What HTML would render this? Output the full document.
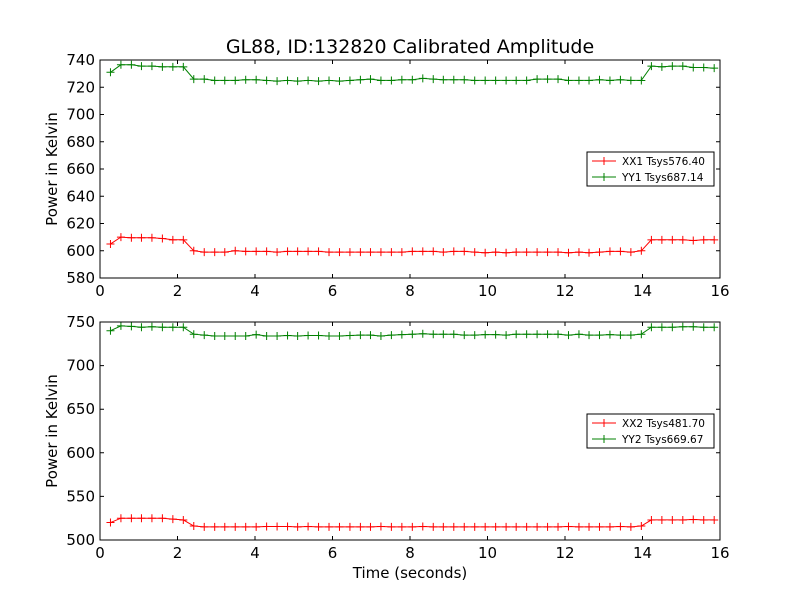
<!DOCTYPE html>
<html><head><meta charset="utf-8"><style>
body{margin:0;background:#fff;}
svg{display:block;font-family:"DejaVu Sans","Liberation Sans",sans-serif;}
</style></head><body>
<svg id="c" width="800" height="600"></svg>
<script>
const times=[0.27,0.54,0.81,1.07,1.34,1.61,1.88,2.15,2.42,2.69,2.96,3.22,3.49,3.76,4.03,4.30,4.57,4.84,5.10,5.37,5.64,5.91,6.18,6.45,6.72,6.98,7.25,7.52,7.79,8.06,8.33,8.60,8.86,9.13,9.40,9.67,9.94,10.21,10.48,10.74,11.01,11.28,11.55,11.82,12.09,12.36,12.62,12.89,13.16,13.43,13.70,13.97,14.23,14.50,14.77,15.04,15.31,15.58,15.85];
const xx1=[605,610,609.5,609.5,609.5,609,608,608,600,599,599,599,600,599.5,599.5,599.5,599,599.5,599.5,599.5,599.5,599,599,599,599,599,599,599,599,599.5,599.5,599.5,599,599.5,599.5,599,598.5,599,598.5,599,599,599,599,599,598.5,599,598.5,599,599.5,599.5,599,600,608,608,608,608,607.5,608,608];
const yy1=[731,736.5,736.5,735.5,735.5,735,735,735,726,726,725,725,725,725.5,725.5,725,724.5,725,724.5,725,724.5,725,724.5,725,725.5,726,725,725,725.5,725.5,726.5,726,725.5,725.5,725.5,725,725,725,725,725,725,726,726,726,725,725,725,725.5,725,725.5,725,725,735.5,735,735.5,735.5,734.5,734.5,734];
const xx2=[520,525,525,525,525,525,524,523,516,515,515,515,515,515,515,515.5,515.5,515.5,515,515.5,515,515,515,515,515,515,515.5,515,515,515,515.5,515,515,515,515,515,515,515,515,515,515,515,515,515,515.5,515,515,515,515,515.5,515,516,523,523,523,523,523.5,523,523];
const yy2=[740,745.5,745,744,744.5,744,744,744,736,735,734,734,734,734,735.5,734,734,734.5,734,734.5,734.5,734,734,734.5,735,735,734,735,735.5,736,736.5,736,736,736,735,735,735.5,735.5,735,736,736,736,736,736,735,736,735,735,735.5,735,735,736,744,744,744,744.5,744.5,744,744];
const xTicks=[0,2,4,6,8,10,12,14,16];
const yTicks1=[580,600,620,640,660,680,700,720,740];
const yTicks2=[500,550,600,650,700,750];
const NS='http://www.w3.org/2000/svg';
const svg=document.getElementById('c');
function mk(t,a,p){const e=document.createElementNS(NS,t);for(const k in a)e.setAttribute(k,a[k]);(p||svg).appendChild(e);return e;}
const L=100,R=720;
function xs(t){return L+(t-0)/(16-0)*(R-L);}
function panel(top,bot,ymin,ymax,yTicks,s1,s2,n1,n2,legY,showX,name){
  const g=mk('g',{});
  
  
  const ys=v=>bot-(v-ymin)/(ymax-ymin)*(bot-top);
  [[s1,'#ff0000','red'],[s2,'#008000','green']].forEach(([s,c,nm],si)=>{
    const pts=s.map((v,i)=>xs(times[i]).toFixed(1)+','+ys(v).toFixed(1)).join(' ');
    const pl=mk('polyline',{points:pts,fill:'none',stroke:c,'stroke-width':1},g);
    
    
    s.forEach((v,i)=>{const x=xs(times[i]),y=ys(v);
      mk('path',{d:`M${x-4},${y}H${x+4}M${x},${y-4}V${y+4}`,stroke:c,'stroke-width':1},g);});
  });
  const fr=mk('rect',{x:L,y:top,width:R-L,height:bot-top,fill:'none',stroke:'#000','stroke-width':1},g);
  
  
  xTicks.forEach(t=>{const x=xs(t);
    mk('path',{d:`M${x},${bot}v-4M${x},${top}v4`,stroke:'#000'},g);
    const tx=mk('text',{x:x,y:bot+18,'text-anchor':'middle','font-size':15},g);tx.textContent=t;
    
    });
  yTicks.forEach(t=>{const y=ys(t);
    mk('path',{d:`M${L},${y}h4M${R},${y}h-4`,stroke:'#000'},g);
    const tx=mk('text',{x:L-5,y:y+5,'text-anchor':'end','font-size':15},g);tx.textContent=t;
    
    });
  const yl=mk('text',{x:57,y:(top+bot)/2,'text-anchor':'middle','font-size':15,transform:`rotate(-90 57 ${(top+bot)/2})`},g);
  yl.textContent='Power in Kelvin';
  
  
  const lg=mk('g',{},g);
  
  
  mk('rect',{x:587,y:legY,width:127,height:34,fill:'#fff',stroke:'#000'},lg);
  [[n1,'#ff0000'],[n2,'#008000']].forEach(([t,c],i)=>{const y=legY+9+i*16;
    mk('path',{d:`M592,${y}h24M604,${y-4}v8`,stroke:c},lg);
    const tx=mk('text',{x:622,y:y+4,'font-size':10.5},lg);tx.textContent=t;
    
    });
}
panel(60,278,580,740,yTicks1,xx1,yy1,'XX1 Tsys576.40','YY1 Tsys687.14',152,true,'top-panel');
panel(322,540,500,750,yTicks2,xx2,yy2,'XX2 Tsys481.70','YY2 Tsys669.67',414,true,'bottom-panel');
const ti=mk('text',{x:410,y:53,'text-anchor':'middle','font-size':19});ti.textContent='GL88, ID:132820 Calibrated Amplitude';


const xt=mk('text',{x:410,y:578,'text-anchor':'middle','font-size':15});xt.textContent='Time (seconds)';


</script>
</body></html>
